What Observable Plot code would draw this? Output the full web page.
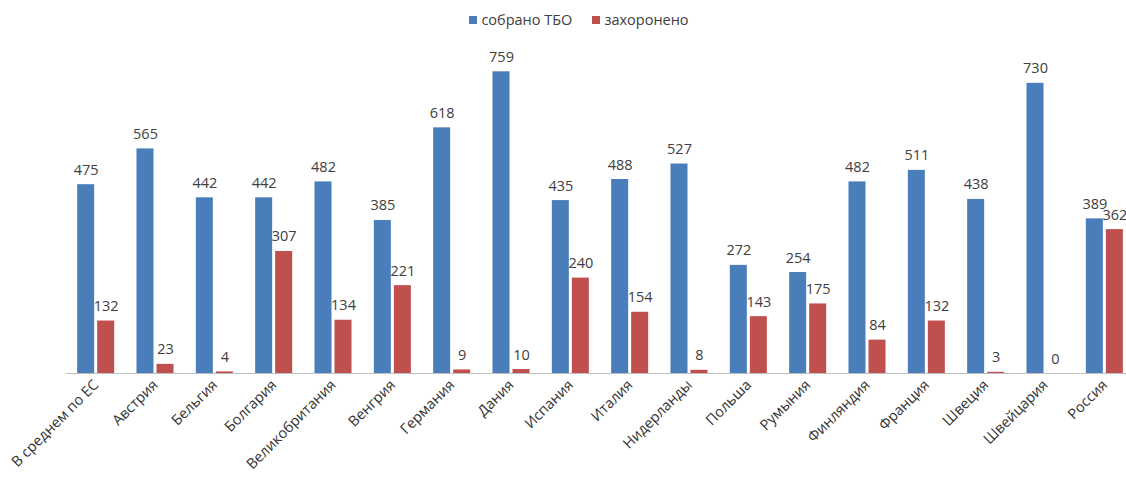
<!DOCTYPE html>
<html>
<head>
<meta charset="utf-8">
<script src="https://cdn.jsdelivr.net/npm/d3@7"></script>
<script src="https://cdn.jsdelivr.net/npm/@observablehq/plot@0.6"></script>
<style>
  html, body { margin: 0; padding: 0; background: #fff; overflow: hidden; }
  body { width: 1126px; height: 477px; font-family: "Open Sans", sans-serif; }
  #legend { height: 36px; display: flex; justify-content: center; align-items: flex-start; gap: 20px; padding-left: 32px; box-sizing: border-box; padding-top: 10px; font-size: 14.5px; line-height: 20px; color: #404040; }
  #legend .item { display: flex; align-items: center; gap: 4px; }
  #legend .sw { width: 8px; height: 8px; display: inline-block; }
</style>
</head>
<body>
<div id="legend"></div>
<div id="chart"></div>
<script>
const countries = ["В среднем по ЕС", "Австрия", "Бельгия", "Болгария", "Великобритания", "Венгрия", "Германия", "Дания", "Испания", "Италия", "Нидерланды", "Польша", "Румыния", "Финляндия", "Франция", "Швеция", "Швейцария", "Россия"];
const collected = [475, 565, 442, 442, 482, 385, 618, 759, 435, 488, 527, 272, 254, 482, 511, 438, 730, 389];
const buried = [132, 23, 4, 307, 134, 221, 9, 10, 240, 154, 8, 143, 175, 84, 132, 3, 0, 362];
const seriesNames = ["собрано ТБО", "захоронено"];
const seriesColors = ["#4A7EBB", "#C0504D"];

const data = [];
countries.forEach((c, i) => {
  data.push({country: c, series: seriesNames[0], value: collected[i]});
  data.push({country: c, series: seriesNames[1], value: buried[i]});
});

const legend = document.getElementById("legend");
seriesNames.forEach((s, i) => {
  const it = document.createElement("span");
  it.className = "item";
  const sw = document.createElement("span");
  sw.className = "sw";
  sw.style.background = seriesColors[i];
  const t = document.createElement("span");
  t.textContent = s;
  it.appendChild(sw); it.appendChild(t);
  legend.appendChild(it);
});

const chart = Plot.plot({
  width: 1126,
  height: 441,
  marginLeft: 66,
  marginRight: -8,
  marginTop: 19,
  marginBottom: 104,
  style: {fontFamily: "'Open Sans', sans-serif", overflow: "hidden"},
  fx: {domain: countries, padding: 0, round: false, label: null},
  x: {domain: seriesNames, paddingInner: 0.15, paddingOuter: 0.5575, round: false, axis: null},
  y: {domain: [0, 800], axis: null},
  color: {domain: seriesNames, range: seriesColors},
  marks: [
    Plot.barY(data, {fx: "country", x: "series", y: "value", fill: "series"}),
    Plot.ruleY([0], {stroke: "#BFBFBF", strokeWidth: 1}),
    Plot.text(data, {fx: "country", x: "series", y: "value", text: d => String(d.value), lineAnchor: "bottom", dy: -10, fontSize: 14.5, fill: "#404040"}),
    Plot.axisFx({anchor: "bottom", tickRotate: -45, tickSize: 0, tickPadding: 9, fontSize: 14.5, fill: "#333", label: null})
  ]
});
document.getElementById("chart").appendChild(chart);
</script>
</body>
</html>
